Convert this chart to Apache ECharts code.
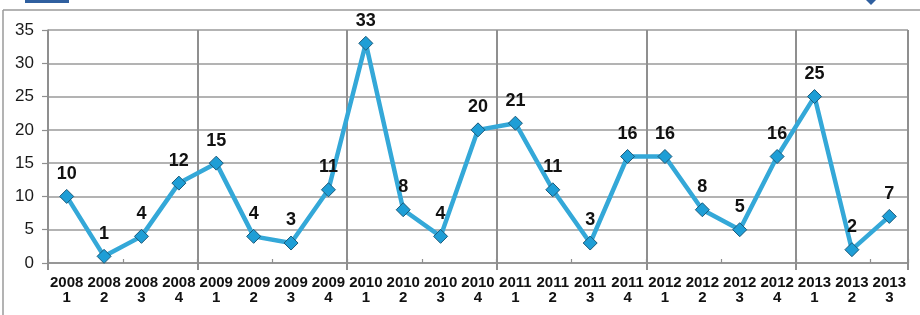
<!DOCTYPE html>
<html>
<head>
<meta charset="utf-8">
<script src="https://cdn.jsdelivr.net/npm/echarts@6/dist/echarts.min.js"></script>
<style>
  html, body { margin: 0; padding: 0; background: #fff; }
  #chart { width: 920px; height: 315px; }
</style>
</head>
<body>
<div id="chart"></div>
<script>
const years = ['2008', '2008', '2008', '2008', '2009', '2009', '2009', '2009', '2010', '2010', '2010', '2010',
  '2011', '2011', '2011', '2011', '2012', '2012', '2012', '2012', '2013', '2013', '2013']
const quarters = ['1', '2', '3', '4', '1', '2', '3', '4', '1', '2', '3', '4',
  '1', '2', '3', '4', '1', '2', '3', '4', '1', '2', '3']
const values = [10, 1, 4, 12, 15, 4, 3, 11, 33, 8, 4, 20, 21, 11, 3, 16, 16, 8, 5, 16, 25, 2, 7]
const yTicks = [0, 5, 10, 15, 20, 25, 30, 35]

const categories = years.map((y, i) => y + '\n' + quarters[i])
const font = 'Liberation Sans, Arial, sans-serif'
const gray = '#8f8f8f'
// year boundaries sit before every first quarter
const isYearStart = (index) => quarters[index] === '1'
const isEvenBoundary = (index) => index % 2 === 0

const chart = echarts.init(document.getElementById('chart'), null, { renderer: 'canvas' })

chart.setOption({
  backgroundColor: '#fff',
  animation: false,
  grid: { left: 48, right: 12, top: 30, bottom: 52 },
  graphic: [
    // frame of the cropped picture
    { type: 'line', shape: { x1: 3, y1: 10, x2: 920, y2: 10 }, style: { stroke: '#9a9a9a', lineWidth: 1.5 } },
    { type: 'line', shape: { x1: 3, y1: 10, x2: 3, y2: 315 }, style: { stroke: '#9a9a9a', lineWidth: 1.5 } },
    // fragments at the top edge
    { type: 'rect', shape: { x: 25, y: 0, width: 44, height: 3 }, style: { fill: '#2f5f9f' } },
    { type: 'polygon', shape: { points: [[866, 0], [876, 0], [871, 5]] }, style: { fill: '#2f5f9f' } }
  ],
  xAxis: [
    {
      type: 'category',
      data: categories,
      boundaryGap: true,
      axisLine: { lineStyle: { color: gray, width: 1.5 } },
      axisTick: { show: true, inside: true, interval: isEvenBoundary, length: 4, lineStyle: { color: gray, width: 1.2 } },
      axisLabel: {
        interval: 0,
        color: '#111',
        fontFamily: font,
        fontWeight: 'bold',
        fontSize: 15,
        lineHeight: 15,
        margin: 12
      },
      splitLine: {
        show: true,
        interval: isYearStart,
        lineStyle: { color: gray, width: 2 }
      }
    },
    {
      // year ticks reaching below the axis
      type: 'category',
      data: categories,
      position: 'bottom',
      boundaryGap: true,
      axisLine: { show: false },
      axisTick: { show: true, interval: isYearStart, length: 7, lineStyle: { color: gray, width: 2 } },
      axisLabel: { show: false },
      splitLine: { show: false }
    }
  ],
  yAxis: {
    type: 'value',
    min: yTicks[0],
    max: yTicks[yTicks.length - 1],
    interval: 5,
    axisLine: { show: true, lineStyle: { color: gray, width: 1.5 } },
    axisTick: { show: true, length: 6, lineStyle: { color: gray, width: 1.2 } },
    axisLabel: {
      color: '#1a1a1a',
      fontFamily: font,
      fontSize: 17,
      margin: 14
    },
    splitLine: { show: true, lineStyle: { color: '#9a9a9a', width: 1.5 } }
  },
  series: [
    {
      type: 'line',
      data: values,
      symbol: 'diamond',
      symbolSize: 14,
      lineStyle: { color: '#34a8d8', width: 4.5 },
      itemStyle: { color: '#1e9ed6', borderColor: '#1b5a7a', borderWidth: 1 },
      label: {
        show: true,
        position: 'top',
        distance: 6,
        color: '#111',
        fontFamily: font,
        fontWeight: 'bold',
        fontSize: 18
      }
    }
  ]
})
</script>
</body>
</html>
